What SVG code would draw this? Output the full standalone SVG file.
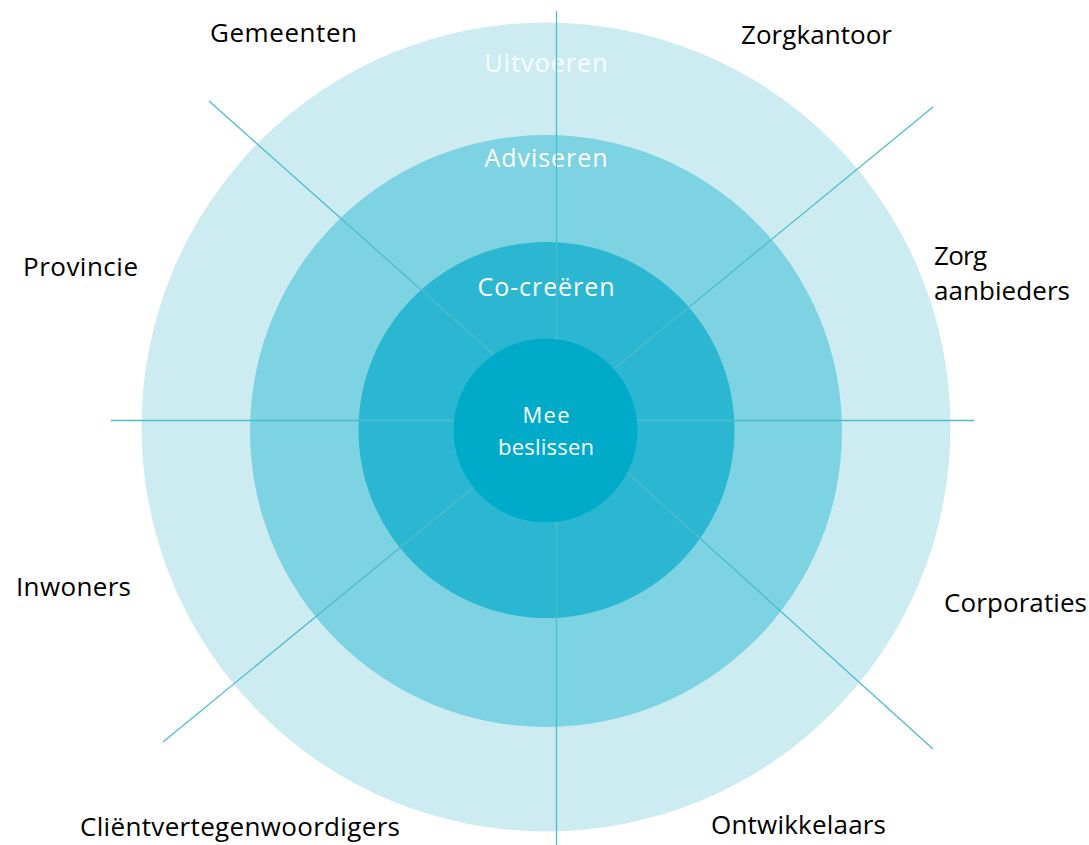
<svg xmlns="http://www.w3.org/2000/svg" width="1089" height="845" viewBox="0 0 1089 845">
<style>
.lbl{font-family:"Open Sans","Noto Sans",sans-serif;font-size:26px;fill:#000}
.in{font-family:"Open Sans","Noto Sans",sans-serif;font-size:25px;fill:#fff;text-anchor:middle}
.sm{font-size:22px}
.ln{stroke:#4dbccc;stroke-width:1.3;fill:none}
</style>
<rect width="1089" height="845" fill="#fff"/>
<g id="ring-uitvoeren"><circle cx="546" cy="427" r="404.5" fill="#cdecf2"/><text class="in" x="546" y="72" textLength="123" fill-opacity="0.9">Uitvoeren</text></g>
<g id="ring-adviseren"><circle cx="546" cy="431" r="296" fill="#7dd3e2"/><text class="in" x="546" y="167" textLength="123">Adviseren</text></g>
<g id="ring-cocreeren"><circle cx="546.5" cy="430" r="188" fill="#2bb7d1"/><text class="in" x="546" y="296" textLength="137">Co-creëren</text></g>
<g id="connectors">
<line class="ln" x1="556.5" y1="11" x2="556.5" y2="845"/>
<line class="ln" x1="111" y1="420.5" x2="974" y2="420.5"/>
<line class="ln" x1="209" y1="101" x2="500" y2="360"/>
<line class="ln" x1="933" y1="107" x2="605" y2="376"/>
<line class="ln" x1="163" y1="742" x2="480" y2="482"/>
<line class="ln" x1="933" y1="749" x2="620" y2="466"/>
</g>
<g id="center"><circle cx="545.5" cy="430.5" r="92" fill="#00abc9"/>
<text class="in sm" x="546" y="423" textLength="47">Mee</text>
<text class="in sm" x="546" y="455" textLength="96">beslissen</text></g>
<g id="labels">
<text class="lbl" x="210" y="42" textLength="147">Gemeenten</text>
<text class="lbl" x="741" y="44" textLength="151">Zorgkantoor</text>
<text class="lbl" x="23" y="276" textLength="115">Provincie</text>
<text class="lbl" x="934" y="265" textLength="53">Zorg</text>
<text class="lbl" x="934" y="300" textLength="136">aanbieders</text>
<text class="lbl" x="16" y="596" textLength="115">Inwoners</text>
<text class="lbl" x="944" y="612" textLength="143">Corporaties</text>
<text class="lbl" x="80" y="836" textLength="320">Cliëntvertegenwoordigers</text>
<text class="lbl" x="711" y="834" textLength="175">Ontwikkelaars</text>
</g>
</svg>
